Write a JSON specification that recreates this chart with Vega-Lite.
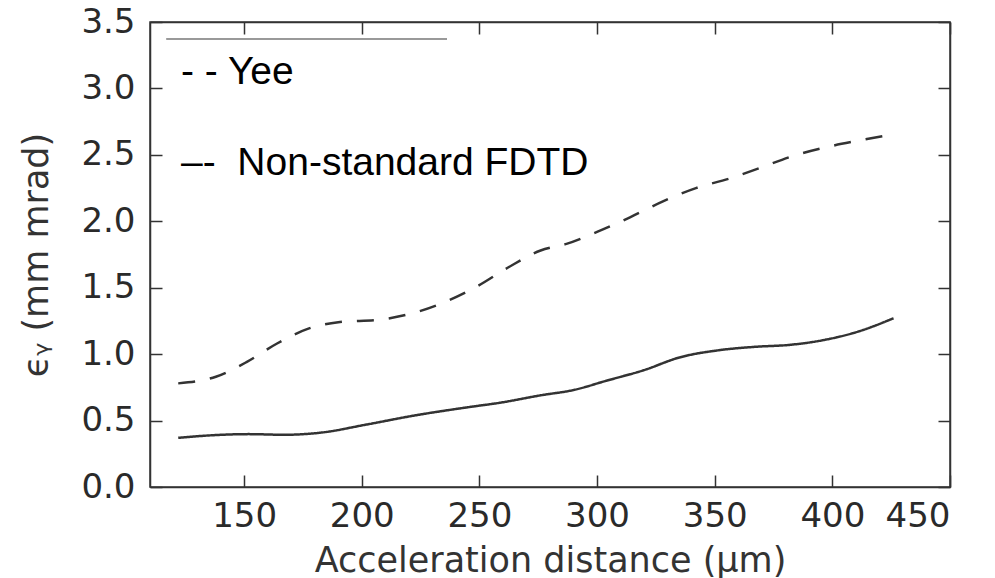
{
  "$schema": "https://vega.github.io/schema/vega-lite/v6.json",
  "width": 800,
  "height": 465,
  "autosize": {"type": "none"},
  "padding": {"left": 150, "top": 22, "right": 45, "bottom": 91},
  "background": "white",
  "data": {
    "values": [
      {"distance": 122, "emittance": 0.78, "method": "Yee"},
      {"distance": 138, "emittance": 0.83, "method": "Yee"},
      {"distance": 151, "emittance": 0.94, "method": "Yee"},
      {"distance": 164, "emittance": 1.08, "method": "Yee"},
      {"distance": 177, "emittance": 1.19, "method": "Yee"},
      {"distance": 190, "emittance": 1.24, "method": "Yee"},
      {"distance": 208, "emittance": 1.26, "method": "Yee"},
      {"distance": 222, "emittance": 1.31, "method": "Yee"},
      {"distance": 235, "emittance": 1.39, "method": "Yee"},
      {"distance": 249, "emittance": 1.51, "method": "Yee"},
      {"distance": 262, "emittance": 1.65, "method": "Yee"},
      {"distance": 276, "emittance": 1.78, "method": "Yee"},
      {"distance": 287, "emittance": 1.83, "method": "Yee"},
      {"distance": 300, "emittance": 1.92, "method": "Yee"},
      {"distance": 314, "emittance": 2.03, "method": "Yee"},
      {"distance": 328, "emittance": 2.15, "method": "Yee"},
      {"distance": 342, "emittance": 2.25, "method": "Yee"},
      {"distance": 356, "emittance": 2.32, "method": "Yee"},
      {"distance": 369, "emittance": 2.40, "method": "Yee"},
      {"distance": 383, "emittance": 2.49, "method": "Yee"},
      {"distance": 398, "emittance": 2.56, "method": "Yee"},
      {"distance": 412, "emittance": 2.61, "method": "Yee"},
      {"distance": 426, "emittance": 2.655, "method": "Yee"},
      {"distance": 122, "emittance": 0.37, "method": "Non-standard FDTD"},
      {"distance": 137, "emittance": 0.39, "method": "Non-standard FDTD"},
      {"distance": 152, "emittance": 0.398, "method": "Non-standard FDTD"},
      {"distance": 167, "emittance": 0.393, "method": "Non-standard FDTD"},
      {"distance": 183, "emittance": 0.41, "method": "Non-standard FDTD"},
      {"distance": 202, "emittance": 0.47, "method": "Non-standard FDTD"},
      {"distance": 223, "emittance": 0.54, "method": "Non-standard FDTD"},
      {"distance": 245, "emittance": 0.60, "method": "Non-standard FDTD"},
      {"distance": 259, "emittance": 0.635, "method": "Non-standard FDTD"},
      {"distance": 276, "emittance": 0.69, "method": "Non-standard FDTD"},
      {"distance": 290, "emittance": 0.73, "method": "Non-standard FDTD"},
      {"distance": 304, "emittance": 0.80, "method": "Non-standard FDTD"},
      {"distance": 320, "emittance": 0.88, "method": "Non-standard FDTD"},
      {"distance": 335, "emittance": 0.975, "method": "Non-standard FDTD"},
      {"distance": 352, "emittance": 1.03, "method": "Non-standard FDTD"},
      {"distance": 367, "emittance": 1.055, "method": "Non-standard FDTD"},
      {"distance": 382, "emittance": 1.07, "method": "Non-standard FDTD"},
      {"distance": 396, "emittance": 1.105, "method": "Non-standard FDTD"},
      {"distance": 411, "emittance": 1.17, "method": "Non-standard FDTD"},
      {"distance": 426, "emittance": 1.27, "method": "Non-standard FDTD"}
    ]
  },
  "layer": [
    {
      "mark": {"type": "line", "interpolate": "monotone", "strokeWidth": 2.5, "color": "#333333"},
      "encoding": {
        "x": {
          "field": "distance", "type": "quantitative",
          "scale": {"domain": [110, 450], "nice": false, "zero": false},
          "axis": {"orient": "bottom", "title": "Acceleration distance (μm)", "values": [150, 200, 250, 300, 350, 400, 450], "labelPadding": 24, "titlePadding": 10}
        },
        "y": {
          "field": "emittance", "type": "quantitative",
          "scale": {"domain": [0, 3.5], "nice": false, "zero": false},
          "axis": {"orient": "left", "title": "ϵᵧ (mm mrad)", "values": [0, 0.5, 1, 1.5, 2, 2.5, 3, 3.5], "format": ".1f", "labelPadding": 27, "titlePadding": 26}
        },
        "strokeDash": {
          "field": "method", "type": "nominal",
          "scale": {"domain": ["Yee", "Non-standard FDTD"], "range": [[17, 15], [1, 0]]},
          "legend": {
            "orient": "none", "legendX": -8, "legendY": 30, "title": null, "padding": 0,
            "symbolType": "stroke", "symbolSize": 1, "symbolOpacity": 0, "symbolStrokeWidth": 0,
            "labelFont": "Liberation Sans", "labelFontSize": 39, "labelColor": "black", "labelOffset": 0,
            "rowPadding": 51, "labelLimit": 800,
            "labelExpr": "datum.label == 'Yee' ? '- - Yee' : '–-\u00a0\u00a0' + datum.label"
          }
        }
      }
    },
    {
      "mark": {"type": "rule", "color": "#999999", "strokeWidth": 1},
      "encoding": {
        "x": {"datum": 117.2, "type": "quantitative", "scale": {"domain": [110, 450], "nice": false, "zero": false}, "axis": {"orient": "top", "labels": false, "title": null, "values": [150, 200, 250, 300, 350, 400, 450]}},
        "x2": {"datum": 236.2},
        "y": {"datum": 3.372, "type": "quantitative", "scale": {"domain": [0, 3.5], "nice": false, "zero": false}, "axis": {"orient": "right", "labels": false, "title": null, "values": [0, 0.5, 1, 1.5, 2, 2.5, 3, 3.5]}}
      }
    }
  ],
  "resolve": {"axis": {"x": "independent", "y": "independent"}},
  "config": {
    "view": {"stroke": "#333333", "strokeWidth": 1.5},
    "axis": {
      "grid": false,
      "domainColor": "#333333", "domainWidth": 1.5,
      "tickColor": "#333333", "tickWidth": 1.5, "tickSize": -12,
      "labelFont": "DejaVu Sans", "labelFontSize": 34, "labelColor": "#2a2a2a",
      "titleFont": "DejaVu Sans", "titleFontSize": 35, "titleColor": "#333333", "titleFontWeight": "normal"
    }
  }
}
